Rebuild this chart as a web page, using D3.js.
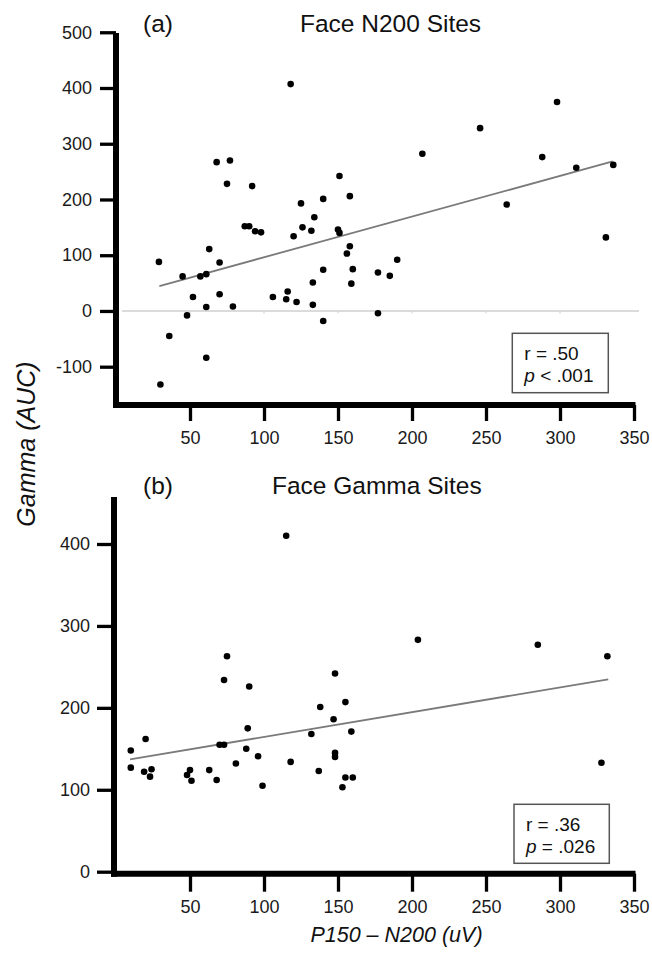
<!DOCTYPE html>
<html>
<head>
<meta charset="utf-8">
<script src="https://cdn.jsdelivr.net/npm/d3@7"></script>
<style>
  html, body { margin: 0; padding: 0; background: #fff; }
  svg { display: block; font-family: "Liberation Sans", Arial, sans-serif; }
</style>
</head>
<body>
<svg id="chart" width="652" height="954"></svg>
<script>
// ---------- DATA ----------
// Panel (a): Face N200 Sites
const aX = [118, 68, 77, 75, 92, 125, 140, 134, 126, 132, 120, 87, 90, 94, 98, 63, 29, 70, 45, 57, 61,
            52, 70, 61, 79, 48, 36, 61, 30, 106, 115, 116, 122, 133, 133, 140, 140, 151, 158, 150, 151,
            158, 156, 160, 159, 177, 185, 190, 177, 207, 246, 264, 288, 298, 311, 336, 331];
const aY = [407, 267, 270, 228, 224, 193, 201, 168, 150, 144, 134, 152, 152, 143, 141, 111, 88, 87, 62, 62, 66,
            25, 30, 7, 8, -8, -45, -84, -132, 25, 21, 35, 16, 51, 11, 74, -18, 242, 206, 146, 140,
            116, 103, 75, 49, 69, 63, 92, -4, 282, 328, 191, 276, 375, 257, 262, 132];
// Panel (b): Face Gamma Sites
const bX = [115, 75, 73, 90, 204, 285, 332, 148, 10, 10, 20, 19, 24, 23, 48, 50, 51, 63, 68, 70, 73,
            89, 88, 81, 96, 99, 118, 132, 138, 137, 155, 147, 159, 148, 148, 155, 160, 153, 328];
const bY = [410, 263, 234, 226, 283, 277, 263, 242, 148, 127, 162, 122, 125, 116, 118, 124, 111, 124, 112, 155, 155,
            175, 150, 132, 141, 105, 134, 168, 201, 123, 207, 186, 171, 145, 140, 115, 115, 103, 133];
// Fitted regression lines (start/end)
const fitA = [[29.3, 44.7], [335.6, 268.3]];
const fitB = [[9.5, 137.2], [332.6, 234.8]];
// Ticks
const xTicks = [50, 100, 150, 200, 250, 300, 350];
const aYTicks = [-100, 0, 100, 200, 300, 400, 500];
const bYTicks = [0, 100, 200, 300, 400];
const statsA = ["r = .50", "< .001"];
const statsB = ["r = .36", "= .026"];
const titles = ["Face N200 Sites", "Face Gamma Sites"];
const labels = ["(a)", "(b)"];

// ---------- DRAW ----------
const svg = d3.select("#chart");
const x = d3.scaleLinear().domain([0, 350]).range([116, 634]);
const yA = d3.scaleLinear().domain([-100, 400]).range([366.7, 88]);
const yB = d3.scaleLinear().domain([0, 400]).range([871.7, 544]);

function panel(cfg) {
  const g = svg.append("g");
  // zero reference line
  if (cfg.zeroLine) {
    g.append("line").attr("x1", 122).attr("x2", 639)
      .attr("y1", cfg.y(0)).attr("y2", cfg.y(0))
      .attr("stroke", "#cfcfcf").attr("stroke-width", 1.6);
    g.selectAll(".zt").data(xTicks.slice(0, 6)).enter().append("line")
      .attr("x1", d => x(d)).attr("x2", d => x(d))
      .attr("y1", cfg.y(0)).attr("y2", cfg.y(0) + 2.5)
      .attr("stroke", "#d5d5d5").attr("stroke-width", 1.2);
  }
  // regression line
  g.append("line")
    .attr("x1", x(cfg.fit[0][0])).attr("y1", cfg.y(cfg.fit[0][1]))
    .attr("x2", x(cfg.fit[1][0])).attr("y2", cfg.y(cfg.fit[1][1]))
    .attr("stroke", "#7a7a7a").attr("stroke-width", 1.8);
  // points
  g.selectAll(".pt").data(cfg.xs.map((v, i) => [v, cfg.ys[i]])).enter().append("circle")
    .attr("cx", d => x(d[0])).attr("cy", d => cfg.y(d[1])).attr("r", 3.3).attr("fill", "#000");

  // y axis
  const ya = g.append("g").attr("transform", `translate(${cfg.spineX},0)`)
    .call(d3.axisLeft(cfg.y).tickValues(cfg.yTicks).tickSize(cfg.yTickSize).tickPadding(cfg.yPad).tickFormat(d => String(d)));
  ya.select(".domain").remove();
  ya.selectAll(".tick line").attr("stroke", "#000").attr("stroke-width", 3.3);
  ya.selectAll(".tick text").attr("font-size", 18).attr("fill", "#1a1a1a")
    .attr("font-family", '"Liberation Sans", Arial, sans-serif');

  // x axis
  const xa = g.append("g").attr("transform", `translate(0,${cfg.baseY})`)
    .call(d3.axisBottom(x).tickValues(xTicks).tickSize(cfg.xTickSize).tickPadding(cfg.xPad));
  xa.select(".domain").remove();
  xa.selectAll(".tick line").attr("stroke", "#000").attr("stroke-width", 3.3);
  xa.selectAll(".tick text").attr("font-size", 18).attr("fill", "#1a1a1a")
    .attr("font-family", '"Liberation Sans", Arial, sans-serif');

  // spines
  g.append("line").attr("x1", cfg.spineX).attr("x2", cfg.spineX)
    .attr("y1", cfg.spineTop).attr("y2", cfg.baseY + 3)
    .attr("stroke", "#000").attr("stroke-width", 6);
  g.append("line").attr("x1", cfg.spineX - 3).attr("x2", 635.5)
    .attr("y1", cfg.baseY).attr("y2", cfg.baseY)
    .attr("stroke", "#000").attr("stroke-width", 6);

  // titles
  g.append("text").attr("x", 143).attr("y", cfg.titleY).attr("font-size", 24.5).attr("fill", "#111").text(cfg.label);
  g.append("text").attr("x", cfg.titleX).attr("y", cfg.titleY).attr("font-size", 24.5).attr("fill", "#111").text(cfg.title);

  // stats box
  const b = cfg.box;
  g.append("rect").attr("x", b[0]).attr("y", b[1]).attr("width", b[2]).attr("height", b[3])
    .attr("fill", "#fff").attr("stroke", "#555").attr("stroke-width", 1.5);
  g.append("text").attr("x", b[0] + 12).attr("y", b[1] + 27).attr("font-size", 19).attr("fill", "#111").text(cfg.stats[0]);
  const t2 = g.append("text").attr("x", b[0] + 12).attr("y", b[1] + 49).attr("font-size", 19).attr("fill", "#111");
  t2.append("tspan").attr("font-style", "italic").text("p");
  t2.append("tspan").text(" " + cfg.stats[1]);
}

panel({ xs: aX, ys: aY, y: yA, fit: fitA, zeroLine: true, yTicks: aYTicks,
        spineX: 116, spineTop: 33, baseY: 405, yTickSize: 16, yPad: 8, xTickSize: 16, xPad: 10,
        titleY: 32, titleX: 300, title: titles[0], label: labels[0],
        box: [512.3, 333.3, 96, 59.4], stats: statsA });
panel({ xs: bX, ys: bY, y: yB, fit: fitB, zeroLine: false, yTicks: bYTicks,
        spineX: 114, spineTop: 497, baseY: 873.7, yTickSize: 17, yPad: 7, xTickSize: 18, xPad: 8.5,
        titleY: 494, titleX: 272, title: titles[1], label: labels[1],
        box: [514, 804.3, 95.3, 59], stats: statsB });

// shared axis titles
svg.append("text").attr("transform", "translate(35,444) rotate(-90)")
  .attr("text-anchor", "middle").attr("font-size", 25).attr("font-style", "italic").attr("fill", "#111")
  .text("Gamma (AUC)");
svg.append("text").attr("x", 396.5).attr("y", 942)
  .attr("text-anchor", "middle").attr("font-size", 21.5).attr("font-style", "italic").attr("fill", "#111")
  .text("P150 – N200 (uV)");
</script>
</body>
</html>
